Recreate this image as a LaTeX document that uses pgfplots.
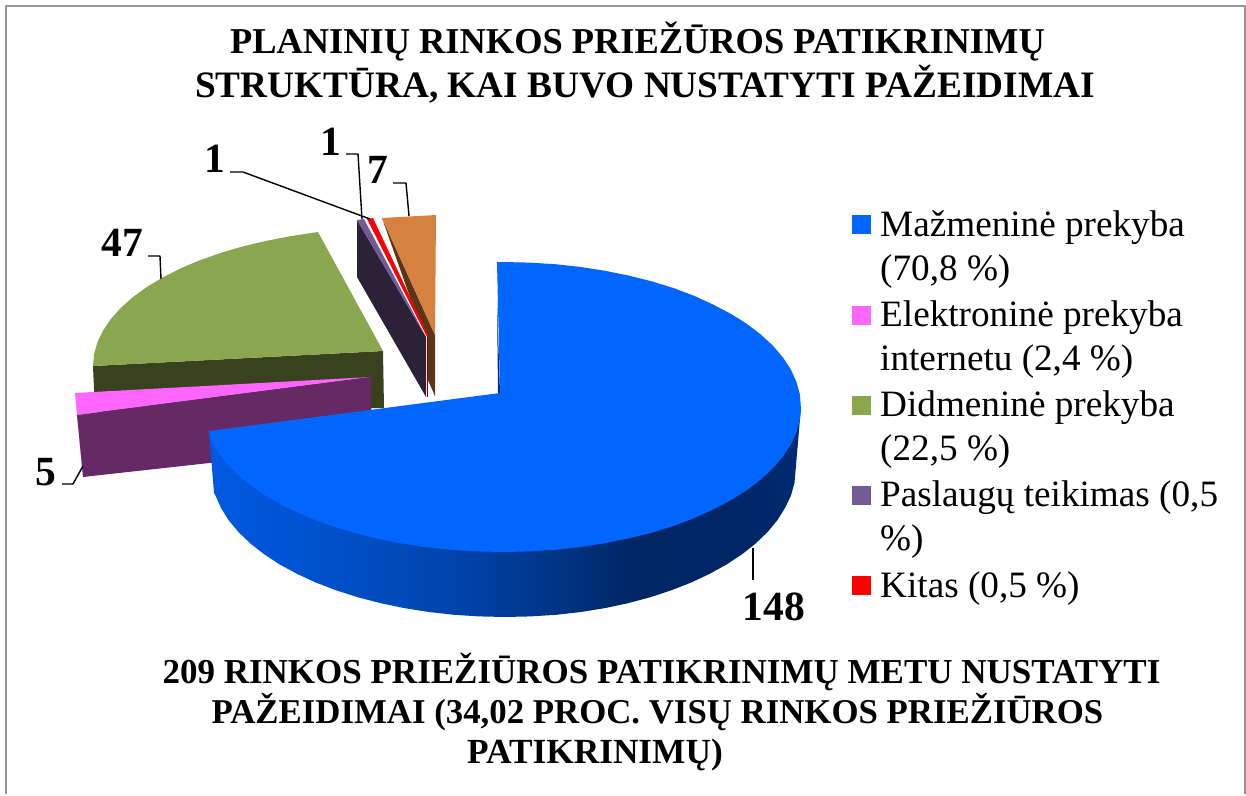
\documentclass[border=0pt]{standalone}
\usepackage{pgfplots}
\pgfplotsset{compat=1.18}
\usepackage{fontspec}
\setmainfont{Liberation Serif}
\definecolor{blueTop}{HTML}{0066FF}
\definecolor{pinkTop}{HTML}{FF66FF}
\definecolor{pinkSide}{HTML}{652A66}
\definecolor{greenTop}{HTML}{8AA64F}
\definecolor{greenSide}{HTML}{38421E}
\definecolor{purpleTop}{HTML}{735A96}
\definecolor{purpleSide}{HTML}{2B2238}
\definecolor{orangeTop}{HTML}{D6813F}
\definecolor{orangeSide}{HTML}{5A3618}
\definecolor{frameGray}{HTML}{969696}
\definecolor{bsA}{RGB}{0,90,226}
\definecolor{bsB}{RGB}{0,74,186}
\definecolor{bsC}{RGB}{0,62,156}
\definecolor{bsD}{RGB}{0,38,100}
\definecolor{bsE}{RGB}{0,38,102}
\definecolor{bsF}{RGB}{0,44,116}
\pgfdeclarehorizontalshading{bluesides}{100bp}{
 color(0bp)=(bsA);
 color(25bp)=(bsA);
 color(41bp)=(bsB);
 color(49.5bp)=(bsC);
 color(61bp)=(bsD);
 color(70.5bp)=(bsE);
 color(75bp)=(bsF);
 color(100bp)=(bsF)}
\newcommand{\tbA}{\fontsize{36.4}{40}\selectfont\bfseries}
\newcommand{\tbB}{\fontsize{37.3}{40}\selectfont\bfseries}
\newcommand{\tbC}{\fontsize{35}{40}\selectfont\bfseries}
\newcommand{\tbD}{\fontsize{34.8}{40}\selectfont\bfseries}
\newcommand{\tbE}{\fontsize{35.3}{40}\selectfont\bfseries}
\newcommand{\lgd}{\fontsize{37.2}{44}\selectfont}
\newcommand{\dl}{\fontsize{41.5}{44}\selectfont\bfseries}
\begin{document}
\begin{tikzpicture}
\begin{axis}[
  scale only axis, width=1246pt, height=794pt,
  xmin=0, xmax=1246, ymin=0, ymax=794, y dir=reverse,
  hide axis, clip=false, no marks,
  every axis plot/.append style={line join=round}]
% page extent
\addplot[draw=none] coordinates {(0,0) (1246,794)};
% frame
\addplot[draw=frameGray, line width=2pt] coordinates {(5.5,794) (5.5,6) (1245,6) (1245,794)};
% green slice
\addplot[fill=greenSide, draw=none] coordinates {(93,366) (383,351) (384,408) (95,412)};
\addplot[fill=greenTop, draw=none] coordinates {(318,232) (383,351) (93,366) (94.1,354) (97.5,342) (103.2,330.3) (111,318.8) (121,307.7) (133,297) (147.1,286.8) (163,277.3) (180.6,268.4) (199.8,260.3) (220.5,253) (242.5,246.5) (265.6,241) (289.7,236.3) (309.6,233.3)};
% pink slice
\addplot[fill=pinkTop, draw=none] coordinates {(75,393) (82,465) (83,477) (77,415) (371,377)};
\addplot[fill=pinkSide, draw=none] coordinates {(77,415) (371,377) (372,445) (83,477)};
% small slices
\addplot[fill=purpleSide, draw=none] coordinates {(357,220) (426,337) (426,397) (357,277)};
\addplot[fill=orangeSide, draw=none] coordinates {(382,218) (411,300) (427,335) (427,378) (435,396) (435,335)};
\addplot[fill=orangeTop, draw=none] coordinates {(382,218) (436,215) (435,335)};
\addplot[fill=purpleTop, draw=none] coordinates {(357,220) (364,219) (426,337)};
\addplot[fill=red, draw=none] coordinates {(367,219) (373,218) (428,335) (427,337)};
\addplot[draw=red!50!black, line width=1pt] coordinates {(427,337) (427,397)};
% blue slice: side
\addplot[shade, shading=bluesides, draw=none] coordinates {
 (801,407) (209,431) (214,493) (215.5,495.5) (221,508) (228.7,520.3) (238.5,532.1) (250.4,543.5) (264.2,554.3) (279.8,564.5) (297.1,573.9) (316,582.6) (336.4,590.4) (358,597.3) (380.8,603.2) (404.4,608.1) (428.9,612) (454,614.8) (479.4,616.4) (505,617) (530.6,616.4) (556,614.8) (581,612) (605,608.1) (628,603.2) (650,597.3) (671,590.4) (691,582.6) (709.5,573.9) (726.5,564.5) (742,554.3) (755.6,543.5) (767.5,532.1) (777.3,520.3) (785,508) (791,495.5) (794.5,482.8)};
% blue slice: inner cut and top
\addplot[fill=blueTop!45!black, draw=none] coordinates {(497,300) (500,393) (498,393)};
\addplot[fill=blueTop, draw=none] coordinates {
 (500,393) (209,431) (213.2,444.5) (221.1,456.6) (231.1,468.3) (243.2,479.5) (257.2,490.2) (273.2,500.2) (290.9,509.5) (310.2,518.1) (330.9,525.8) (353,532.6) (376.2,538.4) (400.4,543.3) (425.4,547.1) (450.9,549.8) (476.8,551.4) (503,552) (529.2,551.4) (555.1,549.8) (580,547.1) (604.6,543.3) (628.8,538.4) (652,532.6) (674,525.8) (694.3,518.1) (713.1,509.5) (730.8,500.2) (746.8,490.2) (760.8,479.5) (772.9,468.3) (782.9,456.6) (790.8,444.5) (796.4,432.2) (799.9,419.6) (801,409) (799.9,394.4) (796.4,381.8) (790.8,369.5) (782.9,357.4) (772.9,345.7) (760.8,334.5) (746.8,323.8) (730.8,313.8) (713.1,304.5) (694.3,295.9) (674,288.2) (652,281.4) (628.8,275.6) (604.6,270.7) (580,266.9) (555.1,264.2) (529.2,262.6) (503,262) (497,262)};
% leader lines
\addplot[black, line width=1.4pt] coordinates {(230,172) (243,172) (370,219)};
\addplot[black, line width=1.4pt] coordinates {(346,154) (358,154) (362,219)};
\addplot[black, line width=1.4pt] coordinates {(393,183) (406,183) (409,216)};
\addplot[black, line width=1.4pt] coordinates {(148,256) (160,256) (161,279)};
\addplot[black, line width=1.4pt] coordinates {(62,484) (73,484) (83,466)};
\addplot[black, line width=1.4pt] coordinates {(753,548) (753,580)};
% legend keys
\addplot[fill=blueTop, draw=none] coordinates {(852,215) (871,215) (871,234) (852,234)};
\addplot[fill=pinkTop, draw=none] coordinates {(852,306) (871,306) (871,325) (852,325)};
\addplot[fill=greenTop, draw=none] coordinates {(852,396) (871,396) (871,415) (852,415)};
\addplot[fill=purpleTop, draw=none] coordinates {(852,486) (871,486) (871,505) (852,505)};
\addplot[fill=red, draw=none] coordinates {(852,576) (871,576) (871,595) (852,595)};
% texts
\node[anchor=base, inner sep=0pt] at (axis cs:637.5,53) {\tbA PLANINIŲ RINKOS PRIEŽŪROS PATIKRINIMŲ};
\node[anchor=base, inner sep=0pt] at (axis cs:645,97) {\tbB STRUKTŪRA, KAI BUVO NUSTATYTI PAŽEIDIMAI};
\node[anchor=base, inner sep=0pt] at (axis cs:661.5,683) {\tbC 209 RINKOS PRIEŽIŪROS PATIKRINIMŲ METU NUSTATYTI};
\node[anchor=base, inner sep=0pt] at (axis cs:657.5,723) {\tbD PAŽEIDIMAI (34,02 PROC. VISŲ RINKOS PRIEŽIŪROS};
\node[anchor=base, inner sep=0pt] at (axis cs:595,763) {\tbE PATIKRINIMŲ)};
\node[anchor=base west, inner sep=0pt] at (axis cs:880,236) {\lgd Mažmeninė prekyba};
\node[anchor=base west, inner sep=0pt] at (axis cs:880,280) {\lgd (70,8 \%)};
\node[anchor=base west, inner sep=0pt] at (axis cs:880,326) {\lgd Elektroninė prekyba};
\node[anchor=base west, inner sep=0pt] at (axis cs:880,370) {\lgd internetu (2,4 \%)};
\node[anchor=base west, inner sep=0pt] at (axis cs:880,416) {\lgd Didmeninė prekyba};
\node[anchor=base west, inner sep=0pt] at (axis cs:880,460) {\lgd (22,5 \%)};
\node[anchor=base west, inner sep=0pt] at (axis cs:880,506) {\lgd Paslaugų teikimas (0,5};
\node[anchor=base west, inner sep=0pt] at (axis cs:880,550) {\lgd \%)};
\node[anchor=base west, inner sep=0pt] at (axis cs:880,597) {\lgd Kitas (0,5 \%)};
\node[anchor=base, inner sep=0pt] at (axis cs:215,172) {\dl 1};
\node[anchor=base, inner sep=0pt] at (axis cs:331,155) {\dl 1};
\node[anchor=base, inner sep=0pt] at (axis cs:378,183) {\dl 7};
\node[anchor=base, inner sep=0pt] at (axis cs:122,256) {\dl 47};
\node[anchor=base, inner sep=0pt] at (axis cs:46,485) {\dl 5};
\node[anchor=base, inner sep=0pt] at (axis cs:774,620) {\dl 148};
\end{axis}
\end{tikzpicture}
\end{document}
